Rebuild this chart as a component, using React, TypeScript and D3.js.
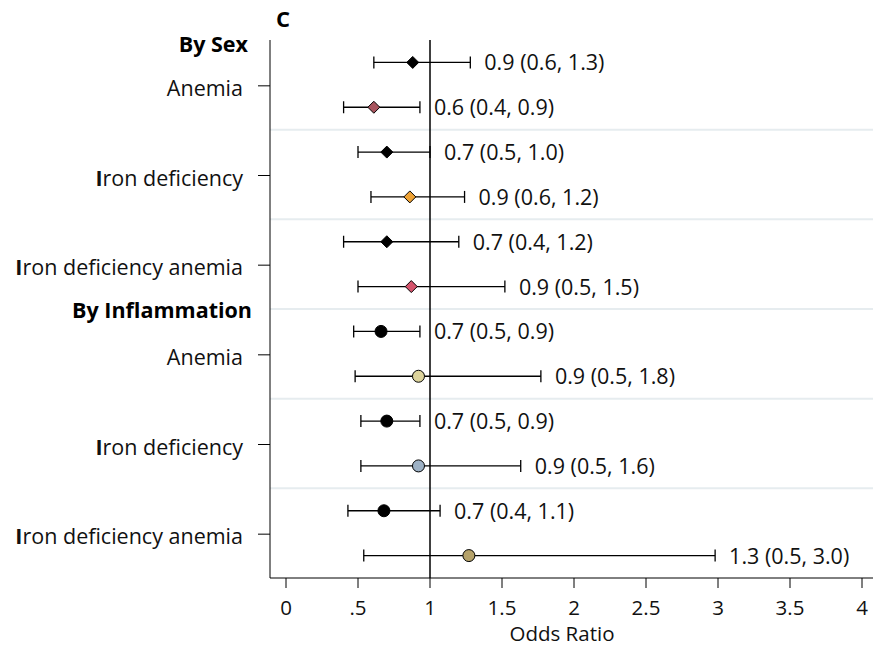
import React from "react";
import * as d3 from "d3";

// Odds ratios with 95% confidence intervals, two strata per outcome
const groupHeaders = ["By Sex", "By Inflammation"];
const outcomes = [
  "Iron deficiency anemia",
  "Anemia",
  "Iron deficiency",
  "Iron deficiency anemia",
  "Anemia",
  "Iron deficiency",
  "Iron deficiency anemia",
];
const outcomeOrder = [1, 2, 3, 4, 5, 6]; // index into outcomes for each row pair
const estimates = [0.88, 0.61, 0.70, 0.86, 0.70, 0.87, 0.66, 0.92, 0.70, 0.92, 0.68, 1.27];
const lowerCI = [0.61, 0.40, 0.50, 0.59, 0.40, 0.50, 0.47, 0.48, 0.52, 0.52, 0.43, 0.54];
const upperCI = [1.28, 0.93, 1.00, 1.24, 1.20, 1.52, 0.93, 1.77, 0.93, 1.63, 1.07, 2.98];
const markerShapes = ["diamond", "diamond", "diamond", "diamond", "diamond", "diamond", "circle", "circle", "circle", "circle", "circle", "circle"];
const markerColors = ["#000000", "#a8545e", "#000000", "#eea235", "#000000", "#d5546c", "#000000", "#ddd49c", "#000000", "#9db1c5", "#000000", "#b5a26a"];
const xTicks = [0, 0.5, 1, 1.5, 2, 2.5, 3, 3.5, 4];
const xTickLabels = ["0", ".5", "1", "1.5", "2", "2.5", "3", "3.5", "4"];

const W = 873;
const H = 649;
const FONT = "'Open Sans', 'DejaVu Sans', sans-serif";
const FS = 21.5;
const AXIS_FS = 20.5;

export default function App() {
  const x = d3.scaleLinear().domain([0, 4]).range([286, 862]);
  const y = d3.scaleLinear().domain([-0.5, 11.5]).range([40, 578]);
  const left = 270;
  const bottom = y(11.5);
  const rows = d3.range(estimates.length);
  const gridRows = [1.5, 3.5, 5.5, 7.5, 9.5];
  const fmt = (v: number) => v.toFixed(1);

  return (
    <svg
      width={W}
      height={H}
      style={{ position: "absolute", left: 0, top: 0, background: "#fff" }}
      fontFamily={FONT}
    >
      {/* horizontal separators between outcomes */}
      {gridRows.map((g) => (
        <line key={g} x1={left} x2={W} y1={y(g)} y2={y(g)} stroke="#e6ecef" strokeWidth={2} />
      ))}

      {/* null reference line */}
      <line x1={x(1)} x2={x(1)} y1={y(-0.5)} y2={bottom} stroke="#000" strokeWidth={1.5} />

      {/* axes */}
      <line x1={left} x2={left} y1={y(-0.5)} y2={bottom} stroke="#000" strokeWidth={1} />
      <line x1={left} x2={W} y1={bottom} y2={bottom} stroke="#000" strokeWidth={1} />
      {xTicks.map((t, i) => (
        <g key={t}>
          <line x1={x(t)} x2={x(t)} y1={bottom} y2={bottom + 10} stroke="#000" strokeWidth={1} />
          <text x={x(t)} y={bottom + 37} textAnchor="middle" fontSize={AXIS_FS} fill="#111">
            {xTickLabels[i]}
          </text>
        </g>
      ))}
      <text x={562} y={641} textAnchor="middle" fontSize={AXIS_FS} fill="#111">
        Odds Ratio
      </text>

      {/* outcome labels and y ticks */}
      {outcomeOrder.map((oi, k) => {
        const yc = y(2 * k + 0.5);
        const label = outcomes[oi];
        return (
          <g key={k}>
            <line x1={left - 12} x2={left} y1={yc + 1} y2={yc + 1} stroke="#000" strokeWidth={1} />
            <text x={243} y={yc + 11} textAnchor="end" fontSize={FS} fill="#111">
              {label.startsWith("I") ? (
                <>
                  <tspan fontWeight="bold">I</tspan>
                  {label.slice(1)}
                </>
              ) : (
                label
              )}
            </text>
          </g>
        );
      })}
      <text x={248} y={y(-0.4) + 8} textAnchor="end" fontSize={FS} fontWeight="bold" fill="#000">
        {groupHeaders[0]}
      </text>
      <text x={252} y={y(5.5) + 9} textAnchor="end" fontSize={FS} fontWeight="bold" fill="#000">
        {groupHeaders[1]}
      </text>

      {/* panel letter */}
      <text x={276} y={27} fontSize={22} fontWeight="bold" fill="#000">
        C
      </text>

      {/* confidence intervals, markers and value labels */}
      {rows.map((i) => {
        const yc = y(i);
        const cx = x(estimates[i]);
        const lo = x(lowerCI[i]);
        const hi = x(upperCI[i]);
        const s = 6;
        return (
          <g key={i}>
            <line x1={lo} x2={hi} y1={yc} y2={yc} stroke="#000" strokeWidth={1.3} />
            <line x1={lo} x2={lo} y1={yc - 6} y2={yc + 6} stroke="#000" strokeWidth={1.3} />
            <line x1={hi} x2={hi} y1={yc - 6} y2={yc + 6} stroke="#000" strokeWidth={1.3} />
            {markerShapes[i] === "diamond" ? (
              <path
                d={`M${cx},${yc - s}L${cx + s},${yc}L${cx},${yc + s}L${cx - s},${yc}Z`}
                fill={markerColors[i]}
                stroke="#000"
                strokeWidth={1}
              />
            ) : (
              <circle cx={cx} cy={yc} r={6} fill={markerColors[i]} stroke="#000" strokeWidth={1} />
            )}
            <text x={hi + 14} y={yc + 8} fontSize={FS} fill="#111">
              {`${fmt(estimates[i])} (${fmt(lowerCI[i])}, ${fmt(upperCI[i])})`}
            </text>
          </g>
        );
      })}
    </svg>
  );
}
